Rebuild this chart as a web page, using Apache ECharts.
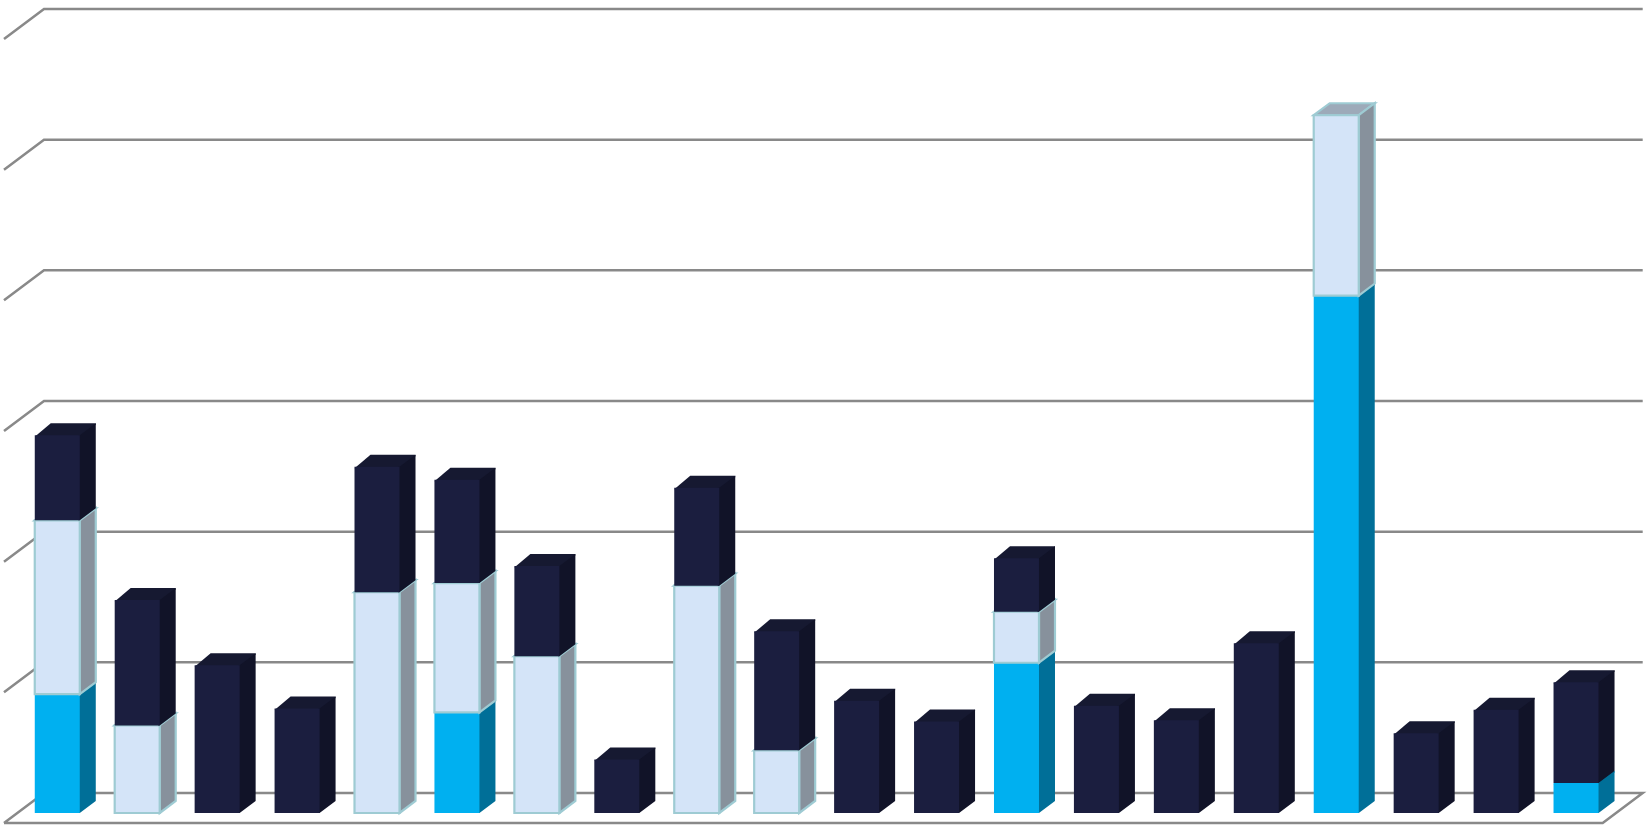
<!DOCTYPE html>
<html>
<head>
<meta charset="utf-8">
<script src="https://cdn.jsdelivr.net/npm/echarts@6/dist/echarts.min.js"></script>
<style>
html,body{margin:0;padding:0;background:#fff;}
#chart{width:1651px;height:828px;}
</style>
</head>
<body>
<div id="chart"></div>
<script>
// ---- data ----
var categories = ['1','2','3','4','5','6','7','8','9','10','11','12','13','14','15','16','17','18','19','20'];
var seriesCyan  = [9.1, 0, 0, 0, 0, 7.7, 0, 0, 0, 0, 0, 0, 11.5, 0, 0, 0, 39.6, 0, 0, 2.3];
var seriesLight = [13.3, 6.7, 0, 0, 16.9, 9.9, 12.0, 0, 17.4, 4.8, 0, 0, 3.9, 0, 0, 0, 13.8, 0, 0, 0];
var seriesNavy  = [6.5, 9.6, 11.3, 8.0, 9.6, 7.9, 6.9, 4.1, 7.5, 9.1, 8.6, 7.0, 4.1, 8.2, 7.1, 13.0, 0, 6.1, 7.9, 7.7];
var yTicks = [0, 10, 20, 30, 40, 50, 60];

// ---- build stacked ranges ----
function stackRanges(layers) {
  var base = categories.map(function () { return 0; });
  return layers.map(function (arr) {
    return arr.map(function (v, i) {
      var lo = base[i];
      base[i] += v;
      return [i, lo, lo + v];
    });
  });
}
var ranges = stackRanges([seriesCyan, seriesLight, seriesNavy]);

var DX = 16, DY = -12;          // bar depth
var WALL_DX = 26.7, WALL_DY = -20; // front plane -> back wall
var FLOOR_DX = 40, FLOOR_DY = -30; // full floor depth

function boxRender(style) {
  return function (params, api) {
    var idx = api.value(0), lo = api.value(1), hi = api.value(2);
    if (hi - lo <= 0) return;
    var band = api.size([1, 0])[0];
    var w = band * 0.563;
    var pLo = api.coord([idx, lo]), pHi = api.coord([idx, hi]);
    var x0 = pLo[0] - w / 2, x1 = pLo[0] + w / 2, yb = pLo[1], yt = pHi[1];
    var bordered = !!style.border;
    var ov = bordered ? 0 : 1.5; // overlap under the front face to hide seams
    function st(fill) {
      return bordered ? { fill: fill, stroke: style.border, lineWidth: 2.2 } : { fill: fill };
    }
    return {
      type: 'group',
      children: [
        { type: 'polygon', shape: { points: [[x0, yt + ov], [x0 + DX, yt + DY], [x1 + DX, yt + DY], [x1 + DX, yt + DY + ov], [x1, yt + ov]] },
          style: st(style.top) },
        { type: 'polygon', shape: { points: [[x1 - ov, yb], [x1, yb], [x1 + DX, yb + DY], [x1 + DX, yt + DY], [x1, yt], [x1 - ov, yt]] },
          style: st(style.side) },
        { type: 'rect', shape: { x: x0, y: yt, width: x1 - x0, height: yb - yt },
          style: st(style.front) }
      ]
    };
  };
}

function wallRender(params, api) {
  var v = api.value(0);
  var cs = params.coordSys;
  var yf = api.coord([0, v])[1];
  var yb = yf + WALL_DY;
  var bl = cs.x + WALL_DX, br = cs.x + cs.width + WALL_DX;
  var pts;
  if (v === 0) {
    pts = [[bl - FLOOR_DX, yb - FLOOR_DY], [bl, yb], [br, yb], [br - FLOOR_DX, yb - FLOOR_DY], [bl - FLOOR_DX, yb - FLOOR_DY]];
  } else {
    pts = [[bl - FLOOR_DX, yb - FLOOR_DY], [bl, yb], [br, yb]];
  }
  return { type: 'polyline', shape: { points: pts },
           style: { stroke: '#898989', lineWidth: 2.5, fill: null } };
}

var chart = echarts.init(document.getElementById('chart'));
chart.setOption({
  animation: false,
  backgroundColor: '#ffffff',
  grid: { left: 17.3, right: 35, top: 29, bottom: 15 },
  xAxis: { type: 'category', data: categories, show: false, boundaryGap: true },
  yAxis: { type: 'value', min: 0, max: 60, interval: 10, show: false, splitLine: { show: false } },
  series: [
    { type: 'custom', name: 'walls', renderItem: wallRender, data: yTicks.map(function (t) { return [t]; }),
      encode: { y: 0 }, silent: true, z: 1 },
    { type: 'custom', name: 'Cyan', renderItem: boxRender({ front: '#00B0F0', side: '#006F98', top: '#0090C4' }),
      data: ranges[0], encode: { x: 0, y: [1, 2] }, z: 2 },
    { type: 'custom', name: 'Light', renderItem: boxRender({ front: '#D4E4F8', side: '#87919C', top: '#9DAAB9', border: '#9ECBD3' }),
      data: ranges[1], encode: { x: 0, y: [1, 2] }, z: 3 },
    { type: 'custom', name: 'Navy', renderItem: boxRender({ front: '#1B1E3F', side: '#111328', top: '#161931' }),
      data: ranges[2], encode: { x: 0, y: [1, 2] }, z: 4 }
  ]
});
</script>
</body>
</html>
